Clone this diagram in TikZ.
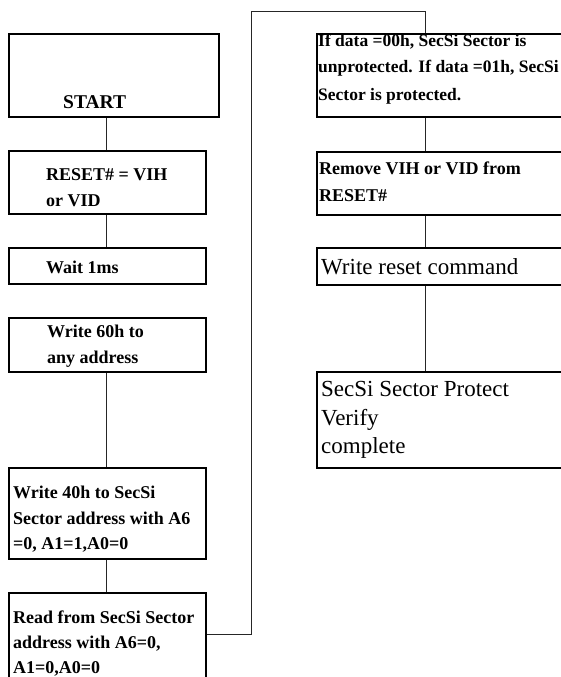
\documentclass[tikz,border=0pt]{standalone}
\usepackage{fontspec}
\setmainfont{Liberation Serif}
\begin{document}
\begin{tikzpicture}[x=1pt,y=-1pt,
  box/.style={draw=black, line width=2.3pt, rectangle, inner sep=0pt, anchor=north west},
  conn/.style={draw=black!85, line width=1pt},
  bt/.style={anchor=base west, inner sep=0pt, font=\fontsize{18}{18}\selectfont\bfseries},
  bts/.style={anchor=base west, inner sep=0pt, font=\fontsize{17.5}{17.5}\selectfont\bfseries},
  rt/.style={anchor=base west, inner sep=0pt, font=\fontsize{23}{23}\selectfont}]
\useasboundingbox[fill=white] (0,0) rectangle (561,677);
\clip (0,0) rectangle (561,677);
% left column boxes
\node[box, minimum width=210pt, minimum height=83pt] (start) at (8,33) {};
\node[box, minimum width=197pt, minimum height=63pt] (reset) at (8,150) {};
\node[box, minimum width=197pt, minimum height=36pt] (wait) at (8,247) {};
\node[box, minimum width=197pt, minimum height=54pt] (w60) at (8,317) {};
\node[box, minimum width=197pt, minimum height=91pt] (w40) at (8,467) {};
\node[box, minimum width=197pt, minimum height=110pt] (read) at (8,592) {};
% right column boxes
\node[box, minimum width=290pt, minimum height=83pt] (ifd) at (316,33) {};
\node[box, minimum width=290pt, minimum height=63pt] (rem) at (316,151) {};
\node[box, minimum width=290pt, minimum height=37pt] (wrc) at (316,247) {};
\node[box, minimum width=290pt, minimum height=96pt] (done) at (316,371) {};
% texts
\node[bt, font=\fontsize{19.5}{19.5}\selectfont\bfseries] (t-start) at (63,108) {START};
\node[bt] (t-reset1) at (46,180) {RESET\# = VIH};
\node[bt] (t-reset2) at (46,206) {or VID};
\node[bt] (t-wait) at (46,273) {Wait 1ms};
\node[bt] (t-w601) at (47,337) {Write 60h to};
\node[bt] (t-w602) at (47,363) {any address};
\node[bt] (t-w401) at (13,498) {Write 40h to SecSi};
\node[bt] (t-w402) at (13,524) {Sector address with A6};
\node[bt] (t-w403) at (13,549) {=0, A1=1,A0=0};
\node[bt] (t-read1) at (13,623) {Read from SecSi Sector};
\node[bt] (t-read2) at (13,648) {address with A6=0,};
\node[bt] (t-read3) at (13,673) {A1=0,A0=0};
\node[bts] (t-ifd1) at (318,47) {If data =00h, SecSi Sector is};
\node[bts] (t-ifd2) at (318,73) {unprotected. If data =01h, SecSi};
\node[bts] (t-ifd3) at (318,100) {Sector is protected.};
\node[bt] (t-rem1) at (319,174) {Remove VIH or VID from};
\node[bt] (t-rem2) at (319,201) {RESET\#};
\node[rt] (t-wrc) at (321,274) {Write reset command};
\node[rt] (t-done1) at (321,396) {SecSi Sector Protect};
\node[rt] (t-done2) at (321,425) {Verify};
\node[rt] (t-done3) at (321,453) {complete};
% connector helpers
\coordinate (lx) at (106,0);
\coordinate (rx) at (425,0);
\coordinate (j1) at (251,634);
\coordinate (j2) at (251,12);
\coordinate (j3) at (425,12);
% connectors
\draw[conn] (lx |- start.south) -- (lx |- reset.north);
\draw[conn] (lx |- reset.south) -- (lx |- wait.north);
\draw[conn] (lx |- w60.south) -- (lx |- w40.north);
\draw[conn] (lx |- w40.south) -- (lx |- read.north);
\draw[conn] (j1 -| read.east) -- (j1) -- (j2) -- (j3) -- (rx |- ifd.north);
\draw[conn] (rx |- ifd.south) -- (rx |- rem.north);
\draw[conn] (rx |- rem.south) -- (rx |- wrc.north);
\draw[conn] (rx |- wrc.south) -- (rx |- done.north);
\end{tikzpicture}
\end{document}
